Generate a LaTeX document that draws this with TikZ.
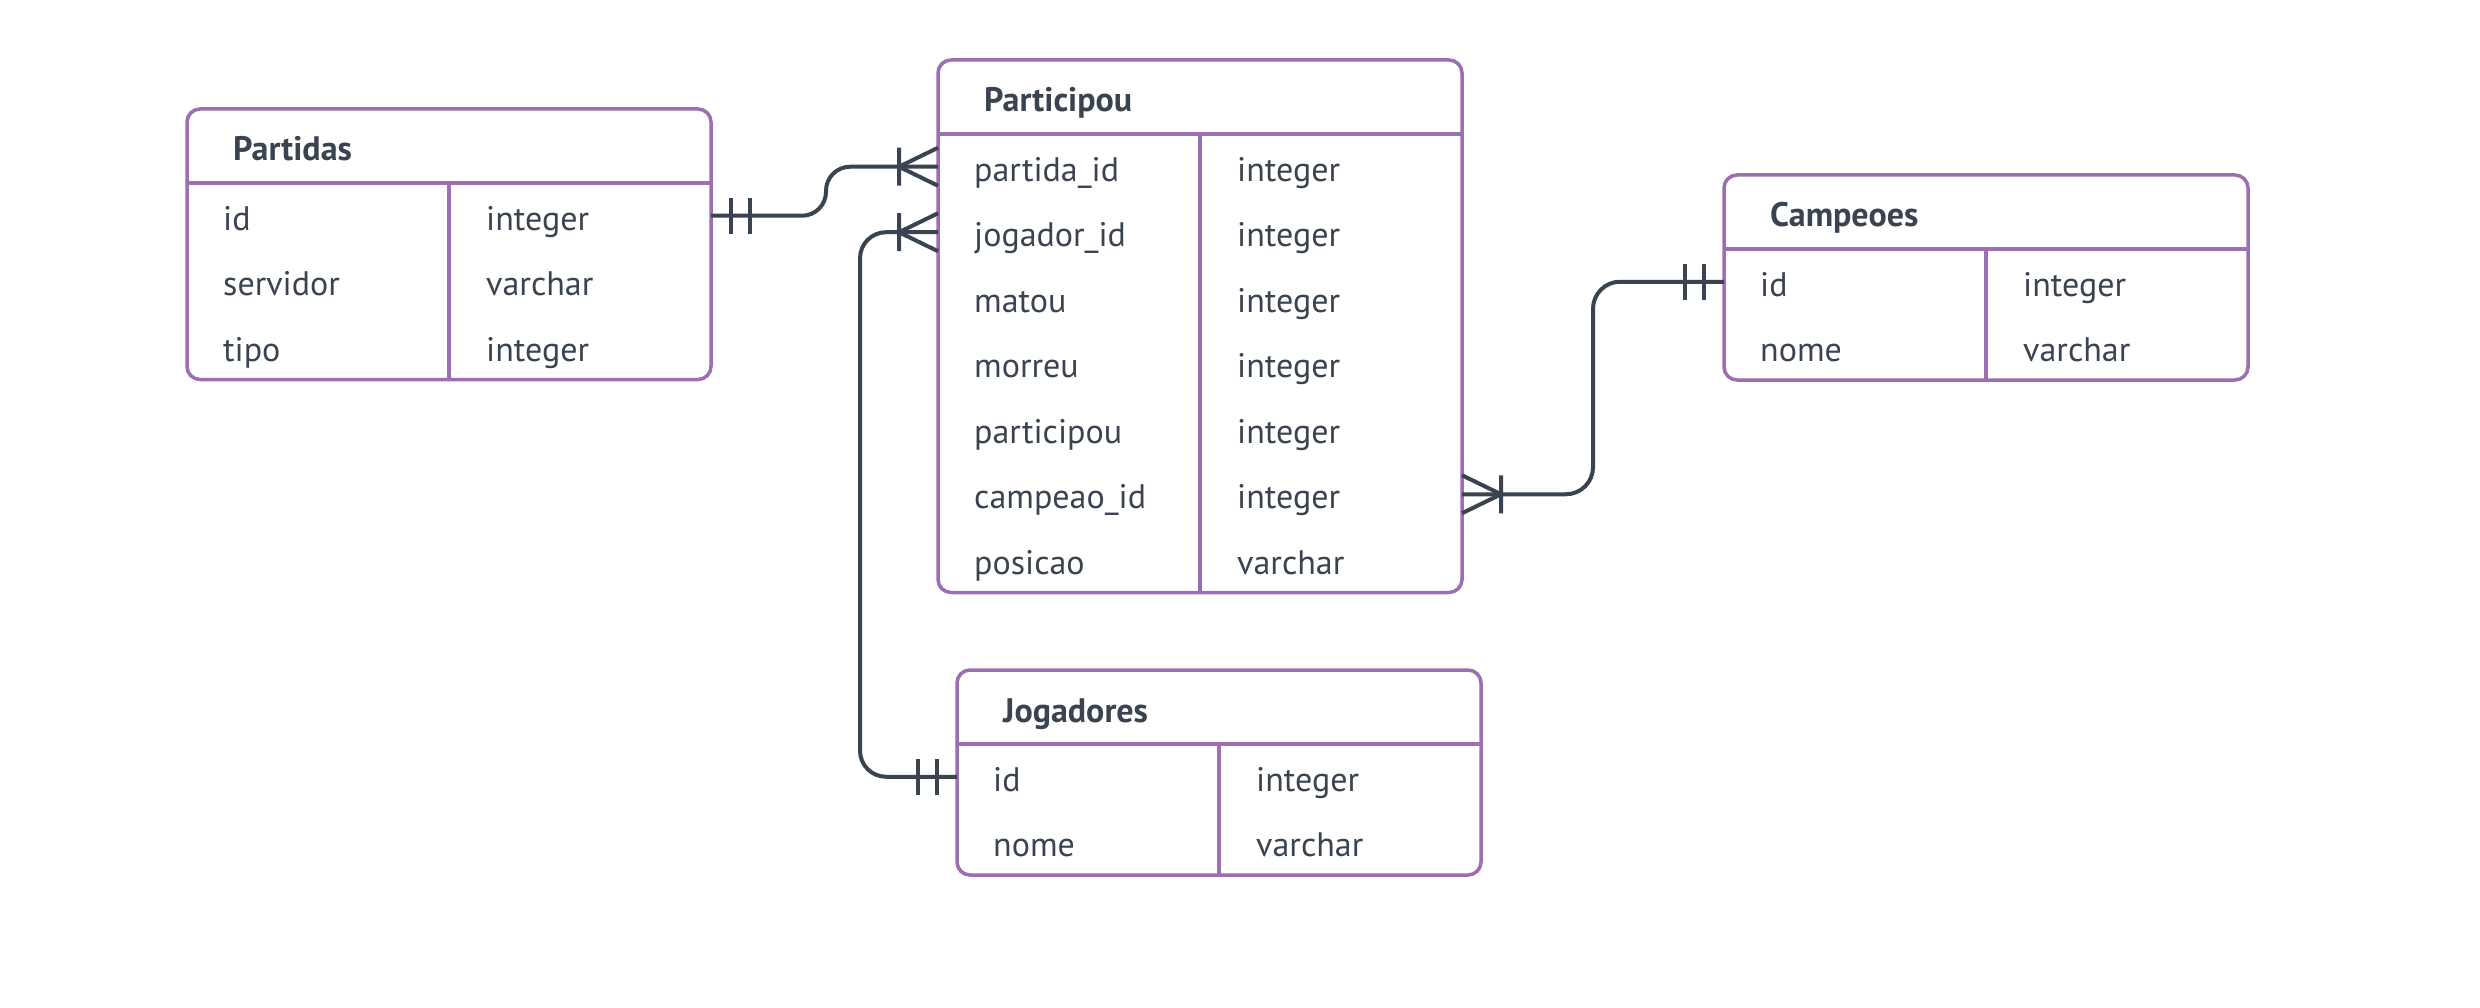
\documentclass[tikz,border=0pt]{standalone}
\usepackage{fontspec}
\setmainfont{PT Sans}
\definecolor{purp}{HTML}{9B6FB1}
\definecolor{ink}{HTML}{3A4350}
\tikzset{
  tbl/.style={draw=purp, line width=3.5pt, rounded corners=13pt, minimum width=524pt,
    inner sep=0pt, outer sep=0pt, anchor=north west, shape=rectangle},
  tline/.style={draw=purp, line width=3.5pt},
  rowbox/.style={minimum width=524pt, minimum height=65.5pt, inner sep=0pt, outer sep=0pt,
    anchor=north west, shape=rectangle},
  fld/.style={text=ink, font=\fontsize{34}{40}\selectfont, inner sep=0pt, anchor=base west},
  ttl/.style={text=ink, font=\fontsize{34}{40}\selectfont\bfseries, inner sep=0pt, anchor=base west},
  conn/.style={draw=ink, line width=4pt},
  crow/.pic={\draw[conn] (-39pt,0pt) -- (0pt,19pt) (-39pt,0pt) -- (0pt,-19pt)
                         (-39pt,19pt) -- (-39pt,-19pt);},
  onebar/.pic={\draw[conn] (-20pt,18pt) -- (-20pt,-18pt) (-39pt,18pt) -- (-39pt,-18pt);}
}
\newcommand{\erdtable}[5]{% name, position, title, nrows, rows
  \node[tbl, minimum height={74+65.5*#4}] (#1) at #2 {};
  \node[ttl] (#1-title) at ([xshift=46pt,yshift=-52pt]#1.north west) {#3};
  \draw[tline] ([yshift=-74pt]#1.north west) -- ([yshift=-74pt]#1.north east);
  \draw[tline] ([xshift=262pt,yshift=-74pt]#1.north west) -- ([xshift=262pt]#1.south west);
  \foreach \f/\t [count=\i] in {#5} {
    \node[rowbox] (#1-\i) at ([yshift={-74pt-65.5pt*(\i-1)}]#1.north west) {};
    \node[fld] (#1-\i-f) at ([xshift=36pt,yshift=-14.5pt]#1-\i.west) {\f};
    \node[fld] (#1-\i-t) at ([xshift=299pt,yshift=-14.5pt]#1-\i.west) {\t};
  }
}
\begin{document}
\begin{tikzpicture}[x=1pt,y=-1pt]
\fill[white] (0,0) rectangle (2480,1008);
\useasboundingbox (0,0) rectangle (2480,1008);

\erdtable{partidas}{(187,109)}{Partidas}{3}{id/integer, servidor/varchar, tipo/integer}
\erdtable{participou}{(938,60)}{Participou}{7}{partida\_id/integer, jogador\_id/integer, matou/integer, morreu/integer, participou/integer, campeao\_id/integer, posicao/varchar}
\erdtable{campeoes}{(1724,175)}{Campeoes}{2}{id/integer, nome/varchar}
\erdtable{jogadores}{(957,670)}{Jogadores}{2}{id/integer, nome/varchar}

\coordinate (m1) at (826,0);
\coordinate (m2) at (860,0);
\coordinate (m3) at (1593,0);

\draw[conn, rounded corners=24pt] (partidas-1.east) -- (partidas-1.east -| m1)
  -- (participou-1.west -| m1) -- (participou-1.west);
\draw[conn, rounded corners=26pt] (jogadores-1.west) -- (jogadores-1.west -| m2)
  -- (participou-2.west -| m2) -- (participou-2.west);
\draw[conn, rounded corners=27pt] (participou-6.east) -- (participou-6.east -| m3)
  -- (campeoes-1.west -| m3) -- (campeoes-1.west);

\pic at (participou-1.west) {crow};
\pic at (participou-2.west) {crow};
\pic[xscale=-1] at (participou-6.east) {crow};
\pic[xscale=-1] at (partidas-1.east) {onebar};
\pic at (jogadores-1.west) {onebar};
\pic at (campeoes-1.west) {onebar};
\end{tikzpicture}
\end{document}
